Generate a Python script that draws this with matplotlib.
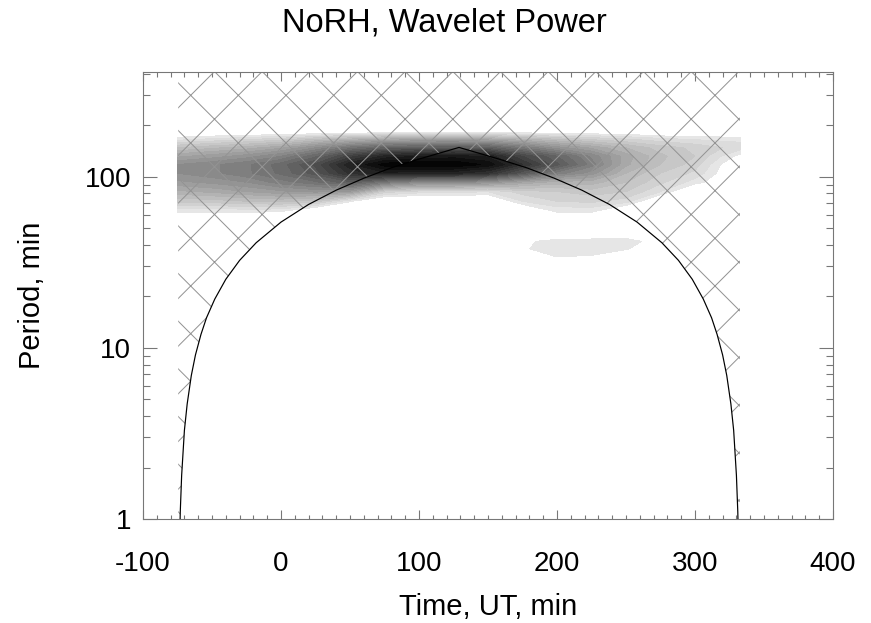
import numpy as np
import matplotlib
matplotlib.use("Agg")
import matplotlib.pyplot as plt
from matplotlib.ticker import MultipleLocator, LogLocator, FuncFormatter, NullFormatter

DPI = 143  # hatch spacing follows dpi, sizes below are given in pixels


def px(v):
    return v * 72.0 / DPI


plt.rcParams["font.family"] = ["Liberation Sans", "DejaVu Sans"]
plt.rcParams["axes.unicode_minus"] = False
plt.rcParams["hatch.linewidth"] = px(1.0)

# wavelet power (0 = white, 1 = black)
power_time = [-75, -50, -25, 0, 25, 50, 75, 100, 125, 150, 175, 200, 225, 250, 275, 300, 333]
power_period = [30, 34, 38, 42, 46, 55, 63, 72, 82, 93, 105, 118, 132, 148, 165, 185, 205]
power = np.array([
    [0, 0, 0, 0, 0, 0, 0, 0, 0, 0, 0, 0, 0, 0, 0, 0, 0],
    [0, 0, 0, 0, 0, 0, 0, 0, 0, 0, 0, .08, .07, 0, 0, 0, 0],
    [0, 0, 0, 0, 0, 0, 0, 0, 0, 0, .07, .12, .12, .09, 0, 0, 0],
    [0, 0, 0, 0, 0, 0, 0, 0, 0, 0, .06, .11, .12, .12, .03, 0, 0],
    [0, 0, 0, 0, 0, 0, 0, 0, 0, 0, 0, 0, 0, .02, 0, 0, 0],
    [0, 0, 0, 0, 0, 0, 0, 0, 0, 0, 0, 0, 0, 0, 0, 0, 0],
    [.09, .09, .09, .085, 0, 0, 0, 0, 0, 0, 0, .09, .09, 0, 0, 0, 0],
    [.21, .22, .24, .25, .215, .085, 0, 0, 0, 0, .12, .16, .17, .14, 0, 0, 0],
    [.31, .33, .36, .39, .41, .39, .18, .14, .14, .12, .18, .20, .22, .20, .12, 0, 0],
    [.39, .41, .44, .50, .55, .63, .52, .45, .45, .42, .35, .30, .30, .24, .17, .10, 0],
    [.44, .47, .51, .57, .66, .81, .87, .85, .85, .80, .65, .50, .42, .28, .20, .15, 0],
    [.44, .47, .51, .58, .69, .87, .98, 1.0, 1.0, .95, .80, .65, .50, .33, .24, .18, 0],
    [.35, .38, .42, .48, .59, .74, .85, .88, .90, .87, .72, .60, .47, .34, .25, .20, .06],
    [.24, .27, .30, .35, .44, .54, .60, .62, .63, .62, .52, .42, .35, .28, .22, .19, .14],
    [.11, .135, .16, .19, .25, .30, .34, .36, .36, .35, .30, .25, .20, .17, .14, .12, .11],
    [0, 0, 0, 0, 0, 0, .02, .03, .03, .02, .02, .02, .02, .02, 0, 0, 0],
    [0, 0, 0, 0, 0, 0, 0, 0, 0, 0, 0, 0, 0, 0, 0, 0, 0],
])

# cone of influence
coi_time = [-74.5, -73, -72, -70, -68, -65, -62, -58, -54, -48, -40, -30, -18, 0, 20, 40,
            60, 80, 100, 129, 158, 178, 198, 218, 238, 258, 276, 288, 298, 306, 312,
            316, 320, 323, 326, 328, 330, 331, 332.5]
coi_period = [0.3, 1.1, 1.8, 3.3, 4.7, 6.9, 9.1, 12, 15, 19.3, 25.2, 32.5, 41.2, 54.4, 69, 83.6,
              98.2, 113, 127, 148.6, 127, 113, 98.2, 83.6, 69, 54.4, 41.2, 32.5, 25.2, 19.3, 15,
              12, 9.1, 6.9, 4.7, 3.3, 1.8, 1.1, 0.3]

fig = plt.figure(figsize=(872 / DPI, 623 / DPI), dpi=DPI)
ax = fig.add_axes([0.164, 0.1669, 0.7913, 0.7175])

levels = np.linspace(0.08, 1.0, 24)
ax.contourf(power_time, power_period, power, levels=levels, cmap="gray_r",
            vmin=0, vmax=1, extend="max", zorder=1)
ax.fill_between(coi_time, coi_period, 1e4, facecolor="none", edgecolor="#939393",
                hatch="x", linewidth=0, zorder=2)
ax.plot(coi_time, coi_period, color="black", lw=px(1.2), zorder=3)

ax.set_yscale("log")
ax.set_xlim(-100, 400)
ax.set_ylim(1, 410)

ax.xaxis.set_major_locator(MultipleLocator(100))
ax.xaxis.set_minor_locator(MultipleLocator(10))
ax.yaxis.set_major_locator(LogLocator(base=10))
ax.yaxis.set_minor_locator(LogLocator(base=10, subs=np.arange(2, 10)))
ax.yaxis.set_major_formatter(FuncFormatter(lambda v, p: "%g" % v))
ax.yaxis.set_minor_formatter(NullFormatter())

ax.tick_params(which="both", direction="in", top=True, right=True,
               color="#777777", labelcolor="black", labelsize=px(27.8), width=px(1.1))
ax.tick_params(axis="x", which="major", length=px(9), pad=px(32))
ax.tick_params(axis="x", which="minor", length=px(4.5))
ax.tick_params(axis="y", which="major", length=px(14), pad=px(12))
ax.tick_params(axis="y", which="minor", length=px(7))
for s in ax.spines.values():
    s.set_color("#777777")
    s.set_linewidth(px(1.1))

ax.set_xlabel("Time, UT, min", fontsize=px(29.2), va="center")
ax.xaxis.set_label_coords(0.5, -0.197)
ax.set_ylabel("Period, min", fontsize=px(29.2), va="center")
ax.yaxis.set_label_coords(-0.161, 0.5)

fig.text(0.51, 1 - 23 / 623, "NoRH, Wavelet Power", ha="center", va="center", fontsize=px(32.6))

fig.savefig("out.png", dpi=DPI)
